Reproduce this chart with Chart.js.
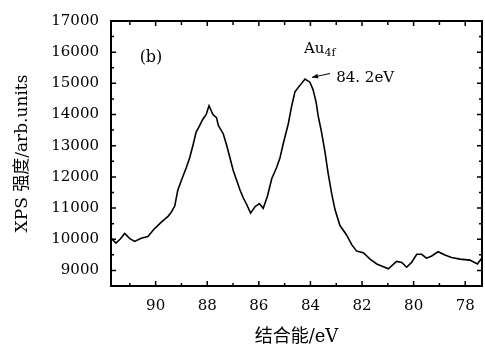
<!DOCTYPE html>
<html>
<head>
<meta charset="utf-8">
<script src="https://cdn.jsdelivr.net/npm/chart.js@4/dist/chart.umd.min.js"></script>
<style>
html,body{margin:0;padding:0;background:#fff;}
#c{display:block;}
</style>
</head>
<body>
<canvas id="c" width="485" height="353"></canvas>
<script>
// Binding energy (eV) and XPS intensity (arb. units)
const energy = [91.72, 91.54, 91.38, 91.2, 91.0, 90.81, 90.56, 90.3, 90.04, 89.78, 89.52, 89.4, 89.26, 89.14, 89.0,
  88.81, 88.68, 88.55, 88.43, 88.33, 88.17, 88.04, 87.93, 87.78, 87.64, 87.57, 87.38, 87.25, 87.12, 86.99,
  86.86, 86.73, 86.6, 86.47, 86.32, 86.15, 85.98, 85.83, 85.67, 85.5, 85.31, 85.18, 85.05, 84.86, 84.73,
  84.6, 84.41, 84.21, 84.02, 83.9, 83.78, 83.7, 83.57, 83.44, 83.31, 83.18, 83.05, 82.86, 82.6, 82.4,
  82.21, 81.95, 81.69, 81.43, 80.98, 80.66, 80.46, 80.27, 80.08, 79.88, 79.69, 79.5, 79.3, 79.05, 78.79,
  78.53, 78.2, 77.82, 77.53, 77.36];
const intensity = [10030, 9876, 10000, 10186, 10020, 9929, 10031, 10084, 10341, 10548, 10734, 10858, 11065, 11579, 11889,
  12302, 12612, 13025, 13437, 13591, 13850, 14004, 14283, 14000, 13900, 13650, 13385, 13025, 12612, 12198,
  11889, 11579, 11322, 11115, 10836, 11043, 11146, 10991, 11374, 11941, 12302, 12612, 13077, 13697, 14263,
  14728, 14935, 15140, 15037, 14800, 14400, 13954, 13437, 12817, 12096, 11477, 10960, 10446, 10136, 9827,
  9619, 9567, 9362, 9207, 9053, 9288, 9257, 9102, 9257, 9517, 9517, 9393, 9464, 9598, 9495,
  9412, 9362, 9331, 9207, 9393];
const xTicks = [78, 80, 82, 84, 86, 88, 90];
const xMinor = [79, 81, 83, 85, 87, 89, 91];
const yTicks = [9000, 10000, 11000, 12000, 13000, 14000, 15000, 16000, 17000];
const yMinor = [9500, 10500, 11500, 12500, 13500, 14500, 15500, 16500];
const peakLabel = "84. 2eV";

const SERIF = '"DejaVu Serif", "Noto Sans CJK SC", serif';

const framePlugin = {
  id: 'frame',
  afterDatasetsDraw(chart) {
    const {ctx, chartArea: a, scales: {x, y}} = chart;
    ctx.save();
    ctx.strokeStyle = '#000';
    ctx.fillStyle = '#000';
    ctx.lineWidth = 2;
    ctx.strokeRect(a.left, a.top, a.right - a.left, a.bottom - a.top);
    ctx.lineWidth = 1.5;
    ctx.beginPath();
    xTicks.forEach(v => {
      const p = x.getPixelForValue(v);
      ctx.moveTo(p, a.bottom); ctx.lineTo(p, a.bottom - 5);
      ctx.moveTo(p, a.top); ctx.lineTo(p, a.top + 5);
    });
    xMinor.forEach(v => {
      const p = x.getPixelForValue(v);
      ctx.moveTo(p, a.bottom); ctx.lineTo(p, a.bottom - 3);
      ctx.moveTo(p, a.top); ctx.lineTo(p, a.top + 4);
    });
    yTicks.forEach(v => {
      const p = y.getPixelForValue(v);
      ctx.moveTo(a.left, p); ctx.lineTo(a.left + 5, p);
      ctx.moveTo(a.right, p); ctx.lineTo(a.right - 5, p);
    });
    yMinor.forEach(v => {
      const p = y.getPixelForValue(v);
      ctx.moveTo(a.left, p); ctx.lineTo(a.left + 3, p);
      ctx.moveTo(a.right, p); ctx.lineTo(a.right - 3, p);
    });
    ctx.stroke();

    // annotations
    ctx.textBaseline = 'alphabetic';
    ctx.font = '16px ' + SERIF;
    ctx.textAlign = 'center';
    ctx.fillText('(b)', x.getPixelForValue(90.18), y.getPixelForValue(15700));
    ctx.textAlign = 'left';
    const auX = x.getPixelForValue(84.25), auY = y.getPixelForValue(15966);
    ctx.font = '15px ' + SERIF;
    ctx.fillText('Au', auX, auY);
    const w = ctx.measureText('Au').width;
    ctx.font = '11px ' + SERIF;
    ctx.fillText('4f', auX + w, auY + 3);
    ctx.font = '15px ' + SERIF;
    ctx.fillText(peakLabel, x.getPixelForValue(83.0), y.getPixelForValue(15050));
    // arrow
    const x1 = x.getPixelForValue(83.24), y1 = y.getPixelForValue(15316);
    const x2 = x.getPixelForValue(83.94), y2 = y.getPixelForValue(15192);
    ctx.lineWidth = 1;
    ctx.beginPath(); ctx.moveTo(x1, y1); ctx.lineTo(x2, y2); ctx.stroke();
    const ang = Math.atan2(y2 - y1, x2 - x1);
    ctx.beginPath();
    ctx.moveTo(x2, y2);
    ctx.lineTo(x2 - 6 * Math.cos(ang) + 2.5 * Math.sin(ang), y2 - 6 * Math.sin(ang) - 2.5 * Math.cos(ang));
    ctx.lineTo(x2 - 6 * Math.cos(ang) - 2.5 * Math.sin(ang), y2 - 6 * Math.sin(ang) + 2.5 * Math.cos(ang));
    ctx.closePath(); ctx.fill();
    ctx.restore();
  }
};

new Chart(document.getElementById('c'), {
  type: 'line',
  data: {
    datasets: [{
      data: energy.map((e, i) => ({x: e, y: intensity[i]})),
      borderColor: '#000',
      borderWidth: 1.6,
      pointRadius: 0,
      tension: 0,
      fill: false
    }]
  },
  options: {
    responsive: false,
    animation: false,
    devicePixelRatio: 1,
    layout: {padding: {top: 12, right: 3, left: 0, bottom: 0}},
    plugins: {legend: {display: false}, tooltip: {enabled: false}, title: {display: false}},
    scales: {
      x: {
        type: 'linear',
        reverse: true,
        min: 77.35,
        max: 91.73,
        afterBuildTicks: s => { s.ticks = xTicks.map(v => ({value: v})); },
        afterFit: s => { s.height = 67; },
        grid: {display: false, drawTicks: false},
        border: {display: false},
        ticks: {color: '#000', font: {family: SERIF, size: 15}, padding: 11, maxRotation: 0, autoSkip: false},
        title: {display: true, text: '结合能/eV', color: '#000', font: {family: SERIF, size: 18}, padding: {top: 0, bottom: 5}}
      },
      y: {
        min: 8500,
        max: 17000,
        afterBuildTicks: s => { s.ticks = yTicks.map(v => ({value: v})); },
        afterFit: s => { s.width = 111; },
        grid: {display: false, drawTicks: false},
        border: {display: false},
        ticks: {color: '#000', font: {family: SERIF, size: 15}, padding: 12, autoSkip: false,
          callback: v => String(v)},
        title: {display: true, text: 'XPS 强度/arb.units', color: '#000', font: {family: SERIF, size: 17}, padding: {top: 12, bottom: 0}}
      }
    }
  },
  plugins: [framePlugin]
});
</script>
</body>
</html>
